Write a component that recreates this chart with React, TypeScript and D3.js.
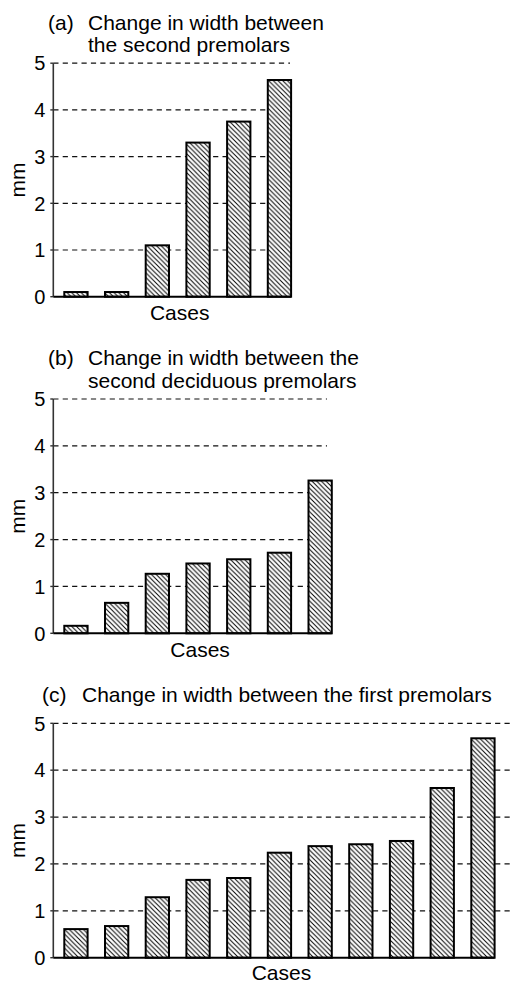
import React from "react";
import * as d3 from "d3";

// values (mm), one bar per case
const casesA = [0.1, 0.1, 1.1, 3.3, 3.75, 4.64];
const casesB = [0.16, 0.65, 1.27, 1.49, 1.58, 1.72, 3.26];
const casesC = [0.61, 0.675, 1.29, 1.66, 1.7, 2.24, 2.38, 2.42, 2.49, 3.62, 4.68];
const yTicks = [0, 1, 2, 3, 4, 5];

const titleA = ["Change in width between", "the second premolars"];
const titleB = ["Change in width between the", "second deciduous premolars"];
const titleC = ["Change in width between the first premolars"];

const FONT = "'Liberation Sans', Arial, Helvetica, sans-serif";
const AXIS_X = 53.3;
const STEP = 40.7;
const BAR_W = 23.3;

type PanelProps = {
  letter: string;
  lines: string[];
  values: number[];
  y0: number; // pixel of 0 mm
  y5: number; // pixel of 5 mm
  gridEnd: number;
  letterX: number;
  titleX: number;
  titleY: number[];
  casesDy?: number;
};

const Panel = ({ letter, lines, values, y0, y5, gridEnd, letterX, titleX, titleY, casesDy = 23.5 }: PanelProps) => {
  const gap = STEP - BAR_W;
  const start = AXIS_X + 11 - gap / 2;
  const x = d3
    .scaleBand<number>()
    .domain(values.map((_, i) => i))
    .range([start, start + values.length * STEP])
    .paddingInner(gap / STEP)
    .paddingOuter(gap / STEP / 2);
  const y = d3.scaleLinear().domain([0, 5]).range([y0, y5]);

  const lastRight = (x(values.length - 1) as number) + x.bandwidth();
  const firstLeft = x(0) as number;
  const midY = (y0 + y5) / 2;

  return (
    <g>
      {/* title */}
      <text x={letterX} y={titleY[0]} fontSize={21}>({letter})</text>
      {lines.map((l, i) => (
        <text key={i} x={titleX} y={titleY[i]} fontSize={21}>{l}</text>
      ))}

      {/* dashed gridlines */}
      {yTicks.filter(t => t > 0).map(t => (
        <line key={t} x1={AXIS_X} x2={gridEnd} y1={y(t)} y2={y(t)}
          stroke="#111" strokeWidth={1.2} strokeDasharray="5.2,4.2" />
      ))}

      {/* bars */}
      {values.map((v, i) => (
        <g key={i}>
          <rect x={x(i)} y={y(v)} width={x.bandwidth()} height={y0 - y(v)} fill="#fff" />
          <rect x={x(i)} y={y(v)} width={x.bandwidth()} height={y0 - y(v)}
            fill="url(#hatch)" stroke="#000" strokeWidth={2} />
        </g>
      ))}

      {/* axes */}
      <line x1={AXIS_X} x2={AXIS_X} y1={y0} y2={y5} stroke="#333" strokeWidth={1.6} />
      <line x1={AXIS_X} x2={lastRight} y1={y0} y2={y0} stroke="#000" strokeWidth={2} />
      {yTicks.map(t => (
        <g key={t}>
          <line x1={AXIS_X - 3} x2={AXIS_X} y1={y(t)} y2={y(t)} stroke="#333" strokeWidth={1.4} />
          <text x={AXIS_X - 8} y={y(t)} dy="0.36em" textAnchor="end" fontSize={20}>{t}</text>
        </g>
      ))}

      <text transform={`translate(25,${midY}) rotate(-90)`} textAnchor="middle" fontSize={21}>mm</text>
      <text x={(firstLeft + lastRight) / 2 + 2} y={y0 + casesDy} textAnchor="middle" fontSize={21}>Cases</text>
    </g>
  );
};

const App = () => {
  return (
    <svg width={510} height={983} style={{ position: "absolute", left: 0, top: 0, background: "#fff" }}
      fontFamily={FONT} fill="#000">
      <defs>
        <pattern id="hatch" patternUnits="userSpaceOnUse" width={4.7} height={4.7}>
          <path d="M-1,-1 L5.7,5.7 M-1,3.7 L1,5.7 M3.7,-1 L5.7,1" stroke="#000" strokeWidth={1} />
        </pattern>
      </defs>
      <rect width={510} height={983} fill="#fff" />
      <Panel letter="a" lines={titleA} values={casesA} y0={296.7} y5={63.2} gridEnd={290}
        letterX={48} titleX={88} titleY={[30, 51.5]} />
      <Panel letter="b" lines={titleB} values={casesB} y0={633.3} y5={399} gridEnd={327}
        letterX={48} titleX={88} titleY={[364.5, 388]} />
      <Panel letter="c" lines={titleC} values={casesC} y0={957.7} y5={723.3} gridEnd={510}
        letterX={42} titleX={82} titleY={[701.5]} casesDy={21.8} />
    </svg>
  );
};

export default App;
